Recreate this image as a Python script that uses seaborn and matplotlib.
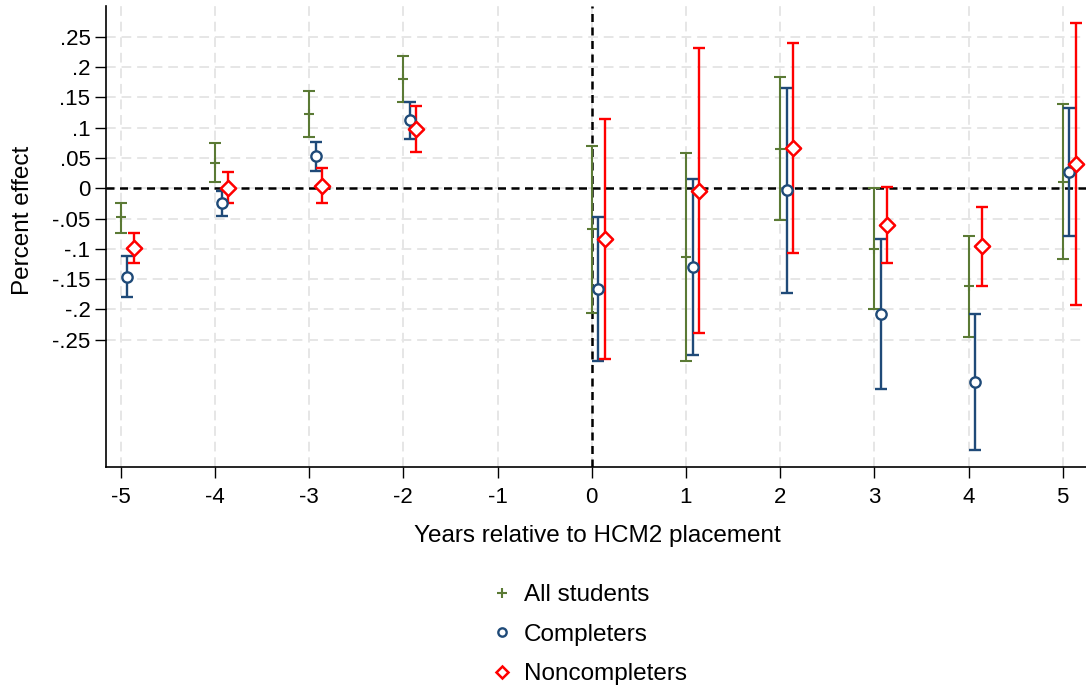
import numpy as np
import pandas as pd
import matplotlib
matplotlib.use("Agg")
import matplotlib.pyplot as plt
import seaborn as sns
from matplotlib.lines import Line2D

# ---- data ----
years = [-5, -4, -3, -2, 0, 1, 2, 3, 4, 5]

all_est = [-0.048, 0.042, 0.122, 0.180, -0.068, -0.113, 0.065, -0.100, -0.162, 0.011]
all_lo = [-0.073, 0.010, 0.085, 0.142, -0.205, -0.285, -0.052, -0.200, -0.246, -0.116]
all_hi = [-0.024, 0.075, 0.160, 0.218, 0.069, 0.059, 0.184, 0.000, -0.078, 0.139]

comp_est = [-0.146, -0.024, 0.053, 0.112, -0.167, -0.130, -0.003, -0.207, -0.319, 0.027]
comp_lo = [-0.179, -0.046, 0.029, 0.081, -0.285, -0.275, -0.173, -0.332, -0.432, -0.078]
comp_hi = [-0.112, -0.004, 0.076, 0.142, -0.048, 0.015, 0.166, -0.084, -0.207, 0.133]

non_est = [-0.099, 0.001, 0.004, 0.098, -0.083, -0.004, 0.066, -0.061, -0.096, 0.040]
non_lo = [-0.124, -0.025, -0.025, 0.060, -0.281, -0.239, -0.107, -0.124, -0.161, -0.192]
non_hi = [-0.073, 0.027, 0.034, 0.135, 0.114, 0.231, 0.239, 0.002, -0.031, 0.272]

series_names = ["All students", "Completers", "Noncompleters"]
ytick_vals = [0.25, 0.2, 0.15, 0.1, 0.05, 0, -0.05, -0.1, -0.15, -0.2, -0.25]
ytick_labels = [".25", ".2", ".15", ".1", ".05", "0", "-.05", "-.1", "-.15", "-.2", "-.25"]
xtick_vals = [-5, -4, -3, -2, -1, 0, 1, 2, 3, 4, 5]

# ---- styling ----
sns.set_style("white")
plt.rcParams["font.family"] = ["Liberation Sans", "DejaVu Sans"]
plt.rcParams["text.color"] = "black"
plt.rcParams["axes.labelcolor"] = "black"
plt.rcParams["xtick.color"] = "black"
plt.rcParams["ytick.color"] = "black"

colors = {"All students": "#5b7a35", "Completers": "#1f4a78", "Noncompleters": "#ff0000"}
offsets = {"All students": 0.0, "Completers": 0.07, "Noncompleters": 0.138}

frames = []
for name, est, lo, hi in [("All students", all_est, all_lo, all_hi),
                          ("Completers", comp_est, comp_lo, comp_hi),
                          ("Noncompleters", non_est, non_lo, non_hi)]:
    frames.append(pd.DataFrame({"year": years, "est": est, "lo": lo, "hi": hi, "group": name}))
df = pd.concat(frames, ignore_index=True)
df["xpos"] = df["year"] + df["group"].map(offsets)

fig = plt.figure(figsize=(10.86, 6.88), dpi=100)
ax = fig.add_axes([0.0973, 0.3208, 0.9027, 0.6705])

# grid
for xv in xtick_vals:
    ax.axvline(xv, color="#e6e6e6", lw=1.4, dashes=(5, 3), zorder=0)
for yv in ytick_vals:
    ax.axhline(yv, color="#e6e6e6", lw=1.4, dashes=(5, 3), zorder=0)

# reference lines
ax.axhline(0, color="black", lw=1.8, dashes=(3.2, 2.2), zorder=1)
ax.axvline(0, color="black", lw=1.8, dashes=(3.2, 2.2), zorder=1)

lws = {"All students": 1.5, "Completers": 1.7, "Noncompleters": 1.7}
for name in series_names:
    d = df[df["group"] == name]
    ax.errorbar(d["xpos"], d["est"],
                yerr=[d["est"] - d["lo"], d["hi"] - d["est"]],
                fmt="none", ecolor=colors[name], elinewidth=lws[name],
                capsize=4, capthick=lws[name], zorder=2)

# points via seaborn
d = df[df["group"] == "All students"]
sns.scatterplot(data=d, x="xpos", y="est", marker="+", color=colors["All students"],
                s=60, linewidth=1.5, ax=ax, zorder=3, legend=False)
d = df[df["group"] == "Completers"]
sns.scatterplot(data=d, x="xpos", y="est", marker="o", facecolor="white",
                edgecolor=colors["Completers"], s=55, linewidth=1.7, ax=ax, zorder=3, legend=False)
d = df[df["group"] == "Noncompleters"]
sns.scatterplot(data=d, x="xpos", y="est", marker="D", facecolor="white",
                edgecolor=colors["Noncompleters"], s=60, linewidth=1.8, ax=ax, zorder=3, legend=False)

ax.set_xlim(-5.16, 5.247)
ax.set_ylim(-0.4604, 0.3008)
ax.set_xticks(xtick_vals)
ax.set_xticklabels([str(v) for v in xtick_vals])
ax.set_yticks(ytick_vals)
ax.set_yticklabels(ytick_labels)
ax.tick_params(axis="both", direction="out", length=8, width=1, labelsize=16,
               color="black", labelcolor="black", left=True, bottom=True)
ax.tick_params(axis="x", pad=6)
ax.tick_params(axis="y", pad=3)
for s in ["top", "right"]:
    ax.spines[s].set_visible(False)
for s in ["left", "bottom"]:
    ax.spines[s].set_color("black")
    ax.spines[s].set_linewidth(1.2)

ax.set_xlabel("Years relative to HCM2 placement", fontsize=17.5, color="black")
ax.set_ylabel("Percent effect", fontsize=17.5, color="black")
ax.xaxis.set_label_coords(0.502, -0.125)
ax.yaxis.set_label_coords(-0.073, 0.536)

handles = [
    Line2D([], [], linestyle="none", marker="+", color=colors["All students"], markersize=7, markeredgewidth=1.5),
    Line2D([], [], linestyle="none", marker="o", markerfacecolor="white", markeredgecolor=colors["Completers"], markersize=6, markeredgewidth=1.7),
    Line2D([], [], linestyle="none", marker="D", markerfacecolor="white", markeredgecolor=colors["Noncompleters"], markersize=6.5, markeredgewidth=1.8),
]
fig.legend(handles, series_names, loc="center", bbox_to_anchor=(0.543, 0.0775),
           frameon=False, fontsize=17.5, handlelength=0.8, handletextpad=0.5,
           labelspacing=0.72, borderaxespad=0)

fig.savefig("out.png", dpi=100)
